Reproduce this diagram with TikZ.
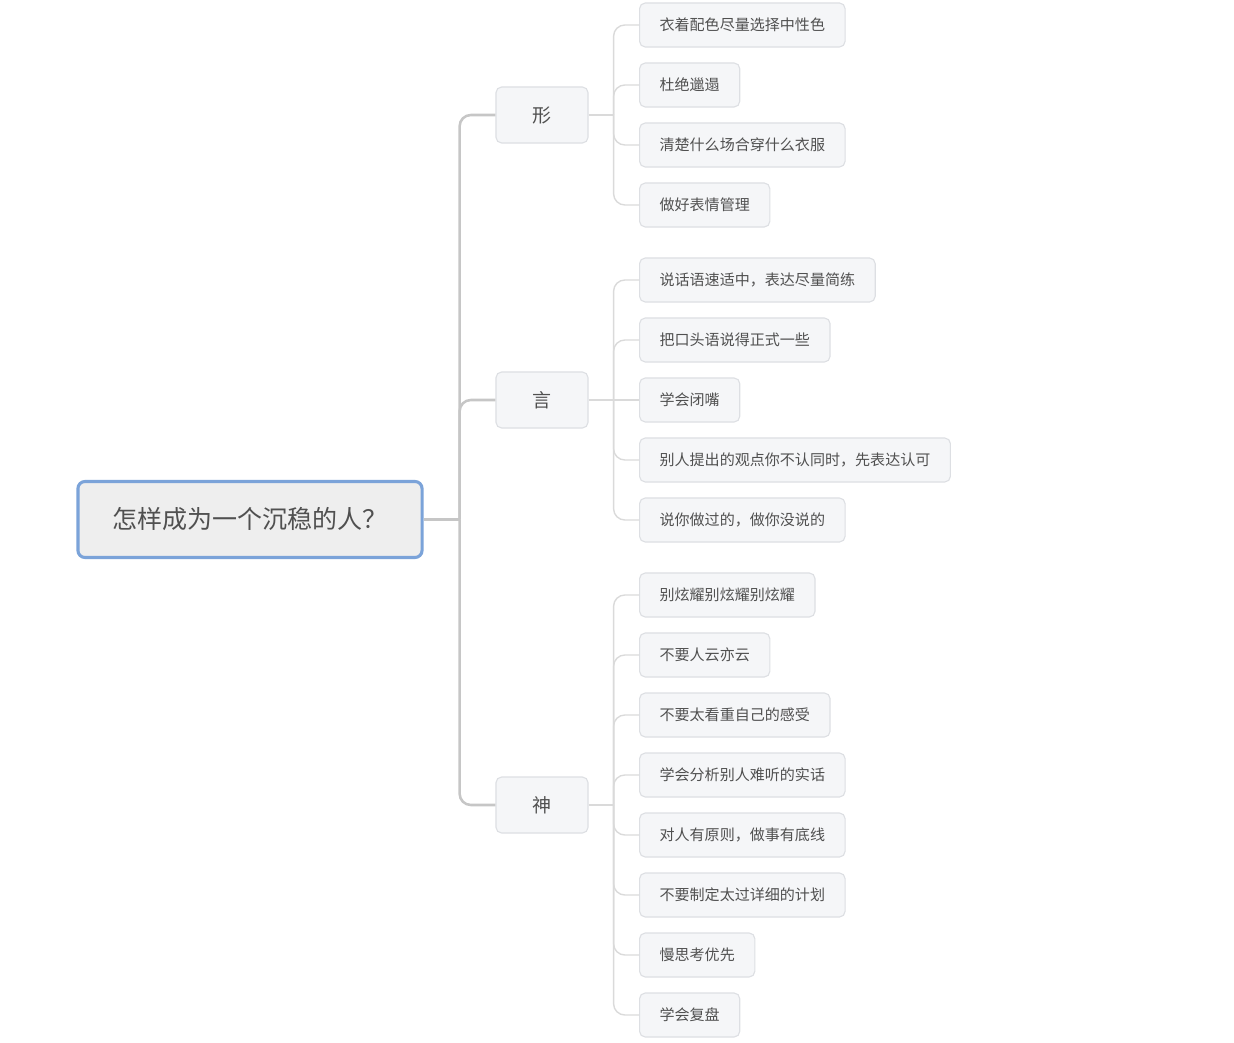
\documentclass[tikz,border=0pt]{standalone}
\usepackage{fontspec}
\setmainfont{Noto Sans CJK SC}
\usepackage{xcolor}
\usetikzlibrary{positioning}

\definecolor{rootblue}{HTML}{7BA3D9}
\definecolor{rootfill}{HTML}{EEEEEE}
\definecolor{boxfill}{HTML}{F5F6F8}
\definecolor{boxline}{HTML}{DDDFE3}
\definecolor{trunkgray}{HTML}{C6C6C6}
\definecolor{twiggray}{HTML}{DADADA}
\definecolor{inkgray}{HTML}{505050}

\tikzset{
  rootbox/.style={draw=rootblue, line width=2.2pt, fill=rootfill, rounded corners=5pt,
    minimum width=8.6cm, minimum height=1.9cm, text=inkgray,
    font=\fontsize{17.8}{20}\selectfont},
  topicbox/.style={draw=boxline, line width=0.8pt, fill=boxfill, rounded corners=4pt,
    minimum width=2.3cm, minimum height=1.4cm, text=inkgray,
    font=\fontsize{13.5}{15}\selectfont},
  leafbox/.style={draw=boxline, line width=0.8pt, fill=boxfill, rounded corners=4pt,
    anchor=west, inner xsep=0.5cm, minimum height=1.1cm, text=inkgray,
    font=\fontsize{10.7}{13}\selectfont},
  trunk/.style={draw=trunkgray, line width=1.8pt, rounded corners=8pt},
  twig/.style={draw=twiggray, line width=1pt, rounded corners=8pt}
}

\begin{document}
\begin{tikzpicture}[x=0.025cm, y=-0.025cm]
\useasboundingbox (0,0) rectangle (1234,1043);

% root and topics
\node[rootbox] (root) at (250,519.5) {怎样成为一个沉稳的人？};

\node[topicbox] (xing) at (542,115) {形};
\node[topicbox] (yan) at (542,400) {言};
\node[topicbox] (shen) at (542,805) {神};

\coordinate (rj) at ([xshift=0.9cm]root.east);
\draw[trunk] (root.east) -- (rj);
\draw[trunk] (rj) |- (xing.west);
\draw[trunk] (rj) |- (yan.west);
\draw[trunk] (rj) |- (shen.west);

% leaves of xing
\node[leafbox] (x1) at (639,25) {衣着配色尽量选择中性色};
\node[leafbox] (x2) at (639,85) {杜绝邋遢};
\node[leafbox] (x3) at (639,145) {清楚什么场合穿什么衣服};
\node[leafbox] (x4) at (639,205) {做好表情管理};

% leaves of yan
\node[leafbox] (y1) at (639,280) {说话语速适中，表达尽量简练};
\node[leafbox] (y2) at (639,340) {把口头语说得正式一些};
\node[leafbox] (y3) at (639,400) {学会闭嘴};
\node[leafbox] (y4) at (639,460) {别人提出的观点你不认同时，先表达认可};
\node[leafbox] (y5) at (639,520) {说你做过的，做你没说的};

% leaves of shen
\node[leafbox] (s1) at (639,595) {别炫耀别炫耀别炫耀};
\node[leafbox] (s2) at (639,655) {不要人云亦云};
\node[leafbox] (s3) at (639,715) {不要太看重自己的感受};
\node[leafbox] (s4) at (639,775) {学会分析别人难听的实话};
\node[leafbox] (s5) at (639,835) {对人有原则，做事有底线};
\node[leafbox] (s6) at (639,895) {不要制定太过详细的计划};
\node[leafbox] (s7) at (639,955) {慢思考优先};
\node[leafbox] (s8) at (639,1015) {学会复盘};

% twigs
{
\coordinate (xj) at ([xshift=0.625cm]xing.east);
\coordinate (yj) at ([xshift=0.625cm]yan.east);
\coordinate (sj) at ([xshift=0.625cm]shen.east);

\draw[twig] (xing.east) -- (xj);
\draw[twig] (xj) |- (x1.west);
\draw[twig] (xj) |- (x2.west);
\draw[twig] (xj) |- (x3.west);
\draw[twig] (xj) |- (x4.west);

\draw[twig] (yan.east) -- (y3.west);
\draw[twig] (yj) |- (y1.west);
\draw[twig] (yj) |- (y2.west);
\draw[twig] (yj) |- (y4.west);
\draw[twig] (yj) |- (y5.west);

\draw[twig] (shen.east) -- (sj);
\draw[twig] (sj) |- (s1.west);
\draw[twig] (sj) |- (s2.west);
\draw[twig] (sj) |- (s3.west);
\draw[twig] (sj) |- (s4.west);
\draw[twig] (sj) |- (s5.west);
\draw[twig] (sj) |- (s6.west);
\draw[twig] (sj) |- (s7.west);
\draw[twig] (sj) |- (s8.west);
}

\end{tikzpicture}
\end{document}
